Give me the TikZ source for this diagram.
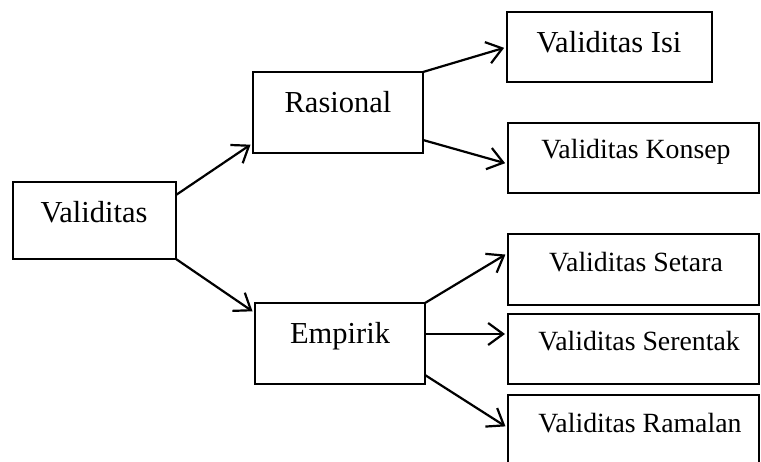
\documentclass[tikz,border=0pt]{standalone}
\usepackage{fontspec}
\setmainfont{Liberation Serif}
\usetikzlibrary{arrows.meta}
\begin{document}
\begin{tikzpicture}[x=1pt,y=-1pt,
  box/.style={draw=black,line width=2.2pt,rectangle,inner sep=0pt,outer sep=0pt,anchor=north west},
  bigtxt/.style={anchor=base,inner sep=0pt,font=\fontsize{30.5}{36}\selectfont},
  smalltxt/.style={anchor=base,inner sep=0pt,font=\fontsize{27.8}{33}\selectfont},
  conn/.style={line width=2.2pt,-{Straight Barb[length=15pt,width=22pt,line width=2.2pt]},shorten >=3pt}]
\useasboundingbox (0,0) rectangle (761,462);
\clip (0,0) rectangle (761,462);
% boxes
\node[box,minimum width=163pt,minimum height=77pt] (val) at (13,182) {};
\node[box,minimum width=170pt,minimum height=81pt] (ras) at (253,72) {};
\node[box,minimum width=170pt,minimum height=81pt] (emp) at (255,303) {};
\node[box,minimum width=205pt,minimum height=70pt] (isi) at (507,12) {};
\node[box,minimum width=251pt,minimum height=70pt] (kon) at (508,123) {};
\node[box,minimum width=251pt,minimum height=71pt] (set) at (508,234) {};
\node[box,minimum width=251pt,minimum height=70pt] (ser) at (508,314) {};
\node[box,minimum width=251pt,minimum height=90pt] (ram) at (508,395) {};
% texts
\node[bigtxt] (tval) at (94,223) {Validitas};
\node[bigtxt] (tras) at (338,112.5) {Rasional};
\node[bigtxt] (temp) at (340,343.5) {Empirik};
\node[bigtxt] (tisi) at (609,52.5) {Validitas Isi};
\node[smalltxt] (tkon) at (636,158.5) {Validitas Konsep};
\node[smalltxt] (tset) at (636,271.5) {Validitas Setara};
\node[smalltxt] (tser) at (639,350.5) {Validitas Serentak};
\node[smalltxt] (tram) at (640,432.5) {Validitas Ramalan};
% connectors
\draw[conn] ([yshift=-13pt]val.north east) -- ([yshift=10pt]ras.south west);
\draw[conn] (val.south east) -- ([yshift=-10pt]emp.north west);
\draw[conn] (ras.north east) -- (isi.west);
\draw[conn] ([yshift=13pt]ras.south east) -- ([yshift=-6pt]kon.west);
\draw[conn] (emp.north east) -- ([yshift=16.5pt]set.west);
\draw[conn] ([yshift=-31pt]emp.north east) -- ([yshift=15pt]ser.west);
\draw[conn] ([yshift=9pt]emp.south east) -- ([yshift=-33pt]ram.north west);
\end{tikzpicture}
\end{document}
